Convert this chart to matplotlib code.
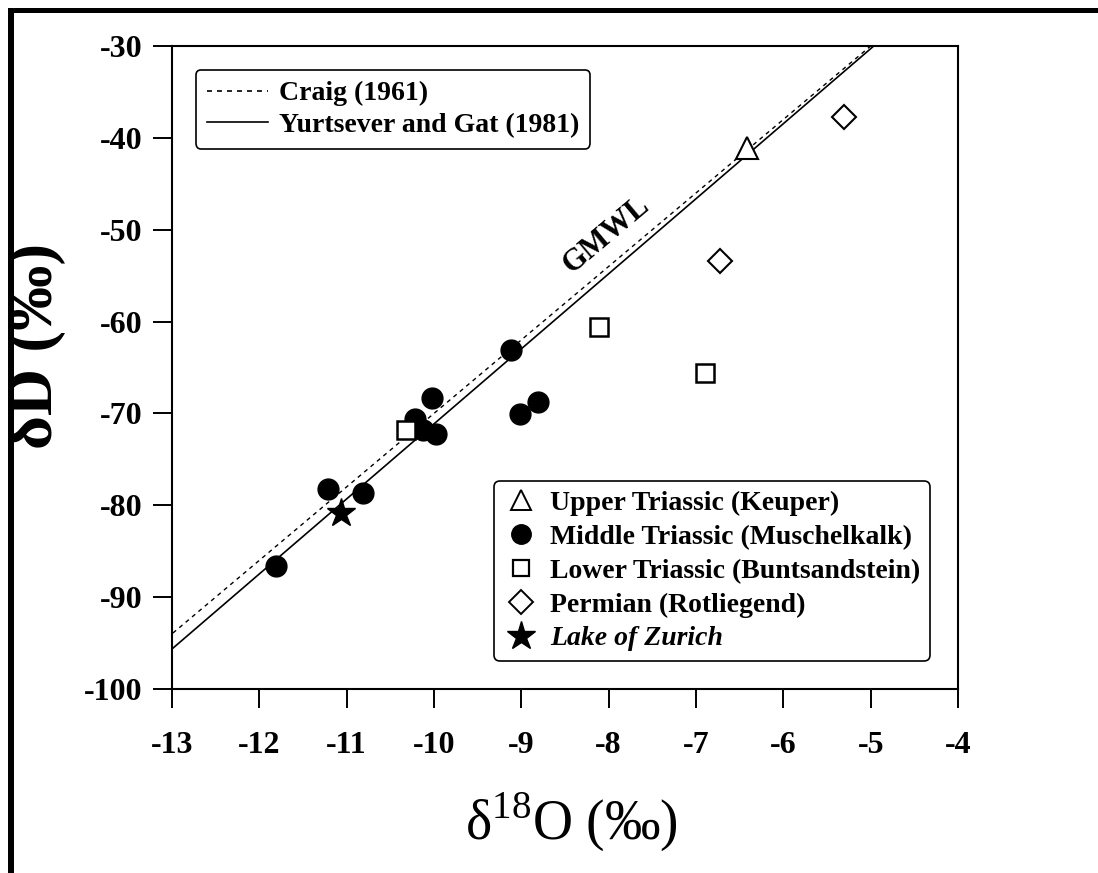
import numpy as np
import matplotlib
matplotlib.use("Agg")
import matplotlib.pyplot as plt
from matplotlib.lines import Line2D
from matplotlib.patches import Rectangle

plt.rcParams["font.family"] = ["Liberation Serif", "DejaVu Serif"]
plt.rcParams["mathtext.fontset"] = "custom"
plt.rcParams["mathtext.rm"] = "Liberation Serif"
plt.rcParams["axes.unicode_minus"] = False

# isotope data (d18O, dD) per formation
upper_x = [-6.42]
upper_y = [-41.1]
middle_x = [-11.81, -11.21, -10.81, -10.22, -10.13, -9.98, -10.02, -9.12, -9.01, -8.81]
middle_y = [-86.6, -78.2, -78.7, -70.6, -71.8, -72.2, -68.3, -63.1, -70.1, -68.8]
lower_x = [-10.32, -8.11, -6.90]
lower_y = [-71.8, -60.6, -65.6]
perm_x = [-6.73, -5.31]
perm_y = [-53.4, -37.7]
lake_x = [-11.06]
lake_y = [-80.8]

# meteoric water lines: slope, intercept
craig = (8.0, 10.0)
yurt = (8.17, 10.56)

xticks = [-13, -12, -11, -10, -9, -8, -7, -6, -5, -4]
yticks = [-100, -90, -80, -70, -60, -50, -40, -30]

fig = plt.figure(figsize=(10.98, 8.73), dpi=100)
ax = fig.add_axes([0.1566, 0.2108, 0.7159, 0.7365])

xl = np.array([-13.5, -3.5])
ax.plot(xl, craig[0] * xl + craig[1], color="black", lw=1.0, ls=(0, (3, 3)), zorder=2)
ax.plot(xl, yurt[0] * xl + yurt[1], color="black", lw=1.2, zorder=2)

ax.plot(middle_x, middle_y, "o", color="black", ms=15, zorder=3)
ax.plot(lower_x, lower_y, "s", mfc="white", mec="black", mew=1.8, ms=12.5, zorder=4)
ax.plot(upper_x, upper_y, "^", mfc="white", mec="black", mew=1.5, ms=16, zorder=4)
ax.plot(perm_x, perm_y, "D", mfc="white", mec="black", mew=1.5, ms=12.5, zorder=4)
ax.plot(lake_x, lake_y, "*", color="black", ms=21, zorder=5)

ax.text(-8.03, -50.6, "GMWL", rotation=40, rotation_mode="anchor",
        ha="center", va="center", fontsize=22, fontweight="bold")

ax.set_xlim(-13, -4)
ax.set_ylim(-100, -30)
ax.set_xticks(xticks)
ax.set_xticklabels([str(t) for t in xticks])
ax.set_yticks(yticks)
ax.set_yticklabels([str(t) for t in yticks])
for s in ax.spines.values():
    s.set_linewidth(1.5)
ax.tick_params(axis="both", direction="out", length=14, width=1.4, labelsize=23)
ax.tick_params(axis="x", pad=16)
ax.tick_params(axis="y", pad=7)
for lab in ax.get_xticklabels() + ax.get_yticklabels():
    lab.set_fontweight("bold")

# line legend
line_handles = [
    Line2D([], [], color="black", lw=1.2, ls=(0, (3, 3))),
    Line2D([], [], color="black", lw=1.2),
]
leg1 = ax.legend(line_handles, ["Craig (1961)", "Yurtsever and Gat (1981)"],
                 loc="upper left", bbox_to_anchor=(0.03, 0.963),
                 prop={"weight": "bold", "size": 20}, frameon=True, fancybox=True,
                 edgecolor="black", framealpha=1, handlelength=2.2,
                 handletextpad=0.4, borderpad=0.4, labelspacing=0.22,
                 borderaxespad=0)
leg1.get_frame().set_linewidth(1.2)
ax.add_artist(leg1)

# sample legend
mk_handles = [
    Line2D([], [], ls="none", marker="^", mfc="white", mec="black", mew=1.4, ms=14),
    Line2D([], [], ls="none", marker="o", color="black", ms=14),
    Line2D([], [], ls="none", marker="s", mfc="white", mec="black", mew=1.6, ms=12),
    Line2D([], [], ls="none", marker="D", mfc="white", mec="black", mew=1.4, ms=12),
    Line2D([], [], ls="none", marker="*", color="black", ms=21),
]
mk_labels = ["Upper Triassic (Keuper)", "Middle Triassic (Muschelkalk)",
             "Lower Triassic (Buntsandstein)", "Permian (Rotliegend)", "Lake of Zurich"]
leg2 = ax.legend(mk_handles, mk_labels, loc="lower right",
                 bbox_to_anchor=(0.964, 0.0435),
                 prop={"weight": "bold", "size": 20}, frameon=True, fancybox=True,
                 edgecolor="black", framealpha=1, handlelength=1.2,
                 handletextpad=0.45, borderpad=0.35, labelspacing=0.3,
                 borderaxespad=0)
leg2.get_frame().set_linewidth(1.2)
leg2.get_texts()[-1].set_fontstyle("italic")

# axis titles
fig.text(571 / 1098, 1 - 840 / 873, "δ$^{\\mathrm{18}}$O (‰)", fontsize=40,
         ha="center", va="baseline")
fig.text(52 / 1098, 1 - 346 / 873, "δD (‰)", fontsize=47, fontweight="bold",
         rotation=90, rotation_mode="anchor", ha="center", va="baseline")

# page frame along top and left
fig.patches.append(Rectangle((0, 0), 8 / 1098, 1, transform=fig.transFigure,
                             facecolor="white", edgecolor="none", zorder=10))
fig.patches.append(Rectangle((8 / 1098, 0), 6 / 1098, 1 - 8 / 873,
                             transform=fig.transFigure, facecolor="black",
                             edgecolor="none", zorder=11))
fig.patches.append(Rectangle((8 / 1098, 1 - 13 / 873), 1 - 8 / 1098, 5 / 873,
                             transform=fig.transFigure, facecolor="black",
                             edgecolor="none", zorder=11))

fig.savefig("out.png", dpi=100)
